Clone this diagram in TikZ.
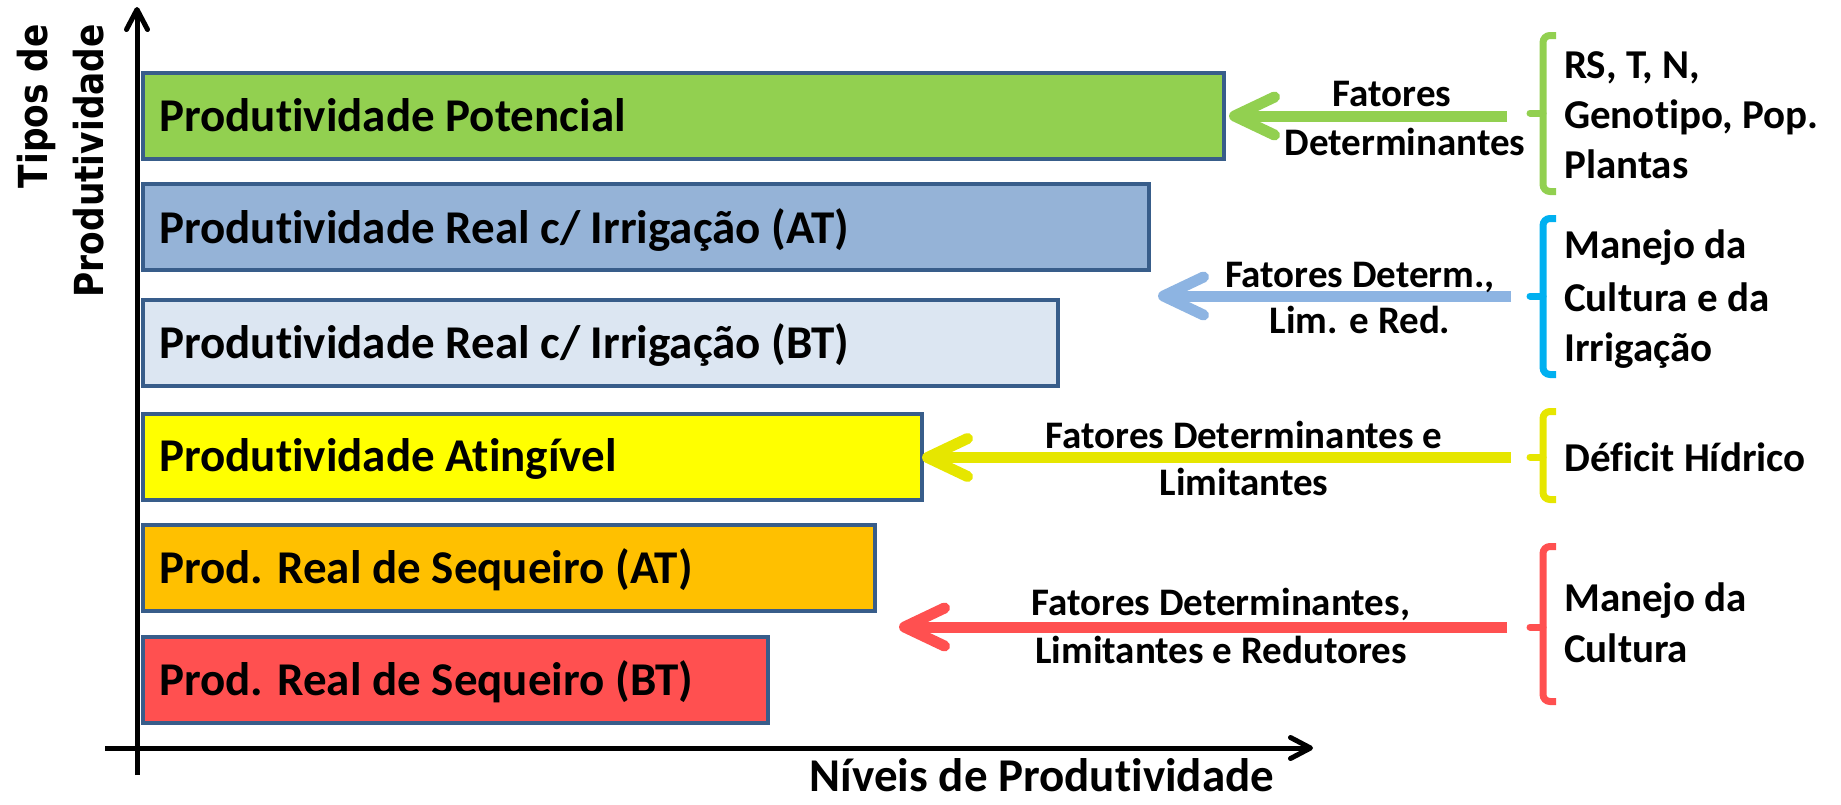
\documentclass[tikz,border=0pt]{standalone}
\usepackage{fontspec}
\setmainfont[Ligatures={NoCommon,NoRequired,NoContextual}, RawFeature={-liga;-clig;-calt;-dlig}]{Carlito}
\newfontfamily\rotfont[FakeStretch=0.86]{DejaVu Sans Bold}
\usetikzlibrary{arrows.meta}
\definecolor{barborder}{HTML}{385D8A}
\definecolor{cgreen}{HTML}{92D050}
\definecolor{cblue}{HTML}{95B3D7}
\definecolor{clight}{HTML}{DCE6F2}
\definecolor{cyellow}{HTML}{FFFF00}
\definecolor{corange}{HTML}{FFC000}
\definecolor{cred}{HTML}{FF5050}
\definecolor{ablue}{HTML}{8DB4E2}
\definecolor{bblue}{HTML}{00B0F0}
\definecolor{ayellow}{HTML}{E6E600}
\begin{document}
\begin{tikzpicture}[x=1pt,y=-1pt,
  bar/.style={draw=barborder, line width=4pt, anchor=west, minimum height=86pt, inner sep=0pt},
  bartext/.style={anchor=base west, inner sep=0pt, font=\fontsize{47}{56}\selectfont\bfseries},
  lbl/.style={anchor=base, inner sep=0pt, font=\fontsize{39}{47}\selectfont\bfseries},
  side/.style={anchor=base west, inner sep=0pt, font=\fontsize{41}{50}\selectfont\bfseries},
  rottext/.style={rotate=90, anchor=base east, inner sep=0pt, font=\fontsize{40}{48}\selectfont\rotfont},
  axis/.style={line width=5pt, -{Straight Barb[length=20pt,width=21pt,round]}},
  farrow/.style={line width=11pt, -{Straight Barb[length=40pt,width=38pt,round]}},
  brace/.style={line width=7pt, rounded corners=7pt},
  nub/.style={line width=7pt, line cap=round},
]
\useasboundingbox (0,0) rectangle (1841,804);

% bars
\node[bar, fill=cgreen,  minimum width=1081pt] (b1) at (141,116) {};
\node[bar, fill=cblue,   minimum width=1006pt] (b2) at (141,227) {};
\node[bar, fill=clight,  minimum width=915pt]  (b3) at (141,342.5) {};
\node[bar, fill=cyellow, minimum width=779pt]  (b4) at (141,456.5) {};
\node[bar, fill=corange, minimum width=732pt]  (b5) at (141,568) {};
\node[bar, fill=cred,    minimum width=625pt]  (b6) at (141,680) {};

\node[bartext] (t1) at (159,131) {Produtividade Potencial};
\node[bartext] (t2) at (159,243) {Produtividade Real c/ Irrigação (AT)};
\node[bartext] (t3) at (159,358) {Produtividade Real c/ Irrigação (BT)};
\node[bartext] (t4) at (159,471) {Produtividade Atingível};
\node[bartext] (t5) at (159,583) {Prod. Real de Sequeiro (AT)};
\node[bartext] (t6) at (159,695) {Prod. Real de Sequeiro (BT)};

% axes
\coordinate (yb) at (137,775);
\coordinate (yt) at (137,7);
\coordinate (xl) at (105,748);
\coordinate (xr) at (1313,748);
\draw[axis] (yb) -- (yt);
\draw[axis] (xl) -- (xr);

\node[rottext] (ya) at (47,24) {Tipos de};
\node[rottext] (yb2) at (103,24) {Produtividade};
\node[anchor=base, inner sep=0pt, font=\fontsize{47}{56}\selectfont\bfseries] (xlab) at (1042,791) {Níveis de Produtividade};

% arrows
\coordinate (gs) at (1507,116);  \coordinate (ge) at (1229,116);
\coordinate (bs) at (1511,296);  \coordinate (be) at (1158,296);
\coordinate (ys) at (1511,457.5);\coordinate (ye) at (922,457.5);
\coordinate (rs) at (1507,627);  \coordinate (re) at (899,627);
\draw[farrow, cgreen]  (gs) -- (ge);
\draw[farrow, ablue]   (bs) -- (be);
\draw[farrow, ayellow] (ys) -- (ye);
\draw[farrow, cred]    (rs) -- (re);

% arrow labels
\node[lbl] (gl1) at (1392,106) {Fatores};
\node[lbl] (gl2) at (1405,155) {Determinantes};
\node[lbl] (bl1) at (1360,287) {Fatores Determ.,};
\node[lbl] (bl2) at (1360,333) {Lim. e Red.};
\node[lbl] (yl1) at (1244,448) {Fatores Determinantes e};
\node[lbl] (yl2) at (1244,495) {Limitantes};
\node[lbl] (rl1) at (1221,615) {Fatores Determinantes,};
\node[lbl] (rl2) at (1221,663) {Limitantes e Redutores};

% braces
\draw[brace, cgreen] (1556,35.5) -- (1543,35.5) -- (1543,191.5) -- (1556,191.5);
\draw[nub, cgreen] (1543,113) -- (1530,113);
\draw[brace, bblue] (1556,218.5) -- (1543,218.5) -- (1543,374.5) -- (1556,374.5);
\draw[nub, bblue] (1543,296) -- (1530,296);
\draw[brace, ayellow] (1556,411.5) -- (1543,411.5) -- (1543,499.5) -- (1556,499.5);
\draw[nub, ayellow] (1543,457) -- (1530,457);
\draw[brace, cred] (1556,546.5) -- (1543,546.5) -- (1543,701.5) -- (1556,701.5);
\draw[nub, cred] (1543,627) -- (1530,627);

% side texts
\node[side] (s1) at (1564,78)  {RS, T, N,};
\node[side] (s2) at (1564,128) {Genotipo, Pop.};
\node[side] (s3) at (1564,178) {Plantas};
\node[side] (s4) at (1564,258) {Manejo da};
\node[side] (s5) at (1564,311) {Cultura e da};
\node[side] (s6) at (1564,361) {Irrigação};
\node[side] (s7) at (1564,471) {Déficit Hídrico};
\node[side] (s8) at (1564,611) {Manejo da};
\node[side] (s9) at (1564,662) {Cultura};
\end{tikzpicture}
\end{document}
